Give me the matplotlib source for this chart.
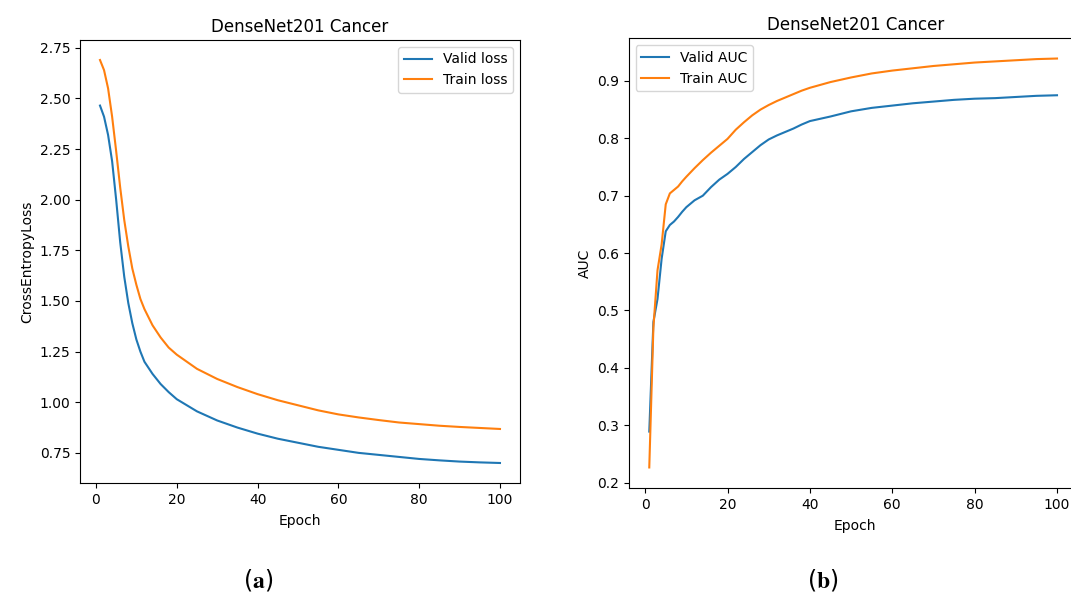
import matplotlib.pyplot as plt

# values
loss_epochs = [1, 2, 3, 4, 5, 6, 7, 8, 9, 10, 11, 12, 14, 16, 18, 20, 25, 30, 35,
               40, 45, 50, 55, 60, 65, 70, 75, 80, 85, 90, 95, 100]
valid_loss = [2.465, 2.41, 2.32, 2.19, 2.00, 1.79, 1.62, 1.49, 1.39, 1.31, 1.25,
              1.20, 1.14, 1.09, 1.05, 1.015, 0.955, 0.91, 0.875, 0.845, 0.82, 0.80,
              0.78, 0.765, 0.75, 0.74, 0.73, 0.72, 0.713, 0.707, 0.703, 0.70]
train_loss = [2.69, 2.64, 2.55, 2.41, 2.24, 2.06, 1.90, 1.77, 1.66, 1.58, 1.51,
              1.46, 1.38, 1.32, 1.27, 1.235, 1.165, 1.115, 1.075, 1.04, 1.01, 0.985,
              0.96, 0.94, 0.925, 0.912, 0.90, 0.892, 0.884, 0.878, 0.873, 0.868]

auc_epochs = [1, 2, 3, 4, 5, 6, 7, 8, 9, 10, 12, 14, 16, 18, 20, 22, 24, 26, 28,
              30, 32, 34, 36, 38, 40, 45, 50, 55, 60, 65, 70, 75, 80, 85, 90, 95, 100]
valid_auc = [0.289, 0.48, 0.52, 0.59, 0.638, 0.649, 0.655, 0.663, 0.672, 0.68,
             0.692, 0.70, 0.715, 0.728, 0.738, 0.75, 0.764, 0.776, 0.788, 0.798,
             0.805, 0.811, 0.817, 0.824, 0.83, 0.838, 0.847, 0.853, 0.857, 0.861,
             0.864, 0.867, 0.869, 0.870, 0.872, 0.874, 0.875]
train_auc = [0.2265, 0.47, 0.57, 0.615, 0.685, 0.704, 0.710, 0.716, 0.725, 0.733,
             0.748, 0.762, 0.775, 0.787, 0.799, 0.815, 0.828, 0.84, 0.85, 0.858,
             0.865, 0.871, 0.877, 0.883, 0.888, 0.898, 0.906, 0.913, 0.918, 0.922,
             0.926, 0.929, 0.932, 0.934, 0.936, 0.938, 0.939]

plt.rcParams["mathtext.fontset"] = "stix"

fig = plt.figure(figsize=(10.71, 5.95), dpi=100)
ax1 = fig.add_axes([0.0747, 0.188, 0.4108, 0.745])
# right panel runs past the figure edge, as in the reference
ax2 = fig.add_axes([0.587, 0.18, 0.423, 0.756])

ax1.plot(loss_epochs, valid_loss, label="Valid loss")
ax1.plot(loss_epochs, train_loss, label="Train loss")
ax1.set_title("DenseNet201 Cancer", fontsize=12)
ax1.set_xlabel("Epoch", labelpad=5)
ax1.set_ylabel("CrossEntropyLoss")
ax1.set_xticks([0, 20, 40, 60, 80, 100])
ax1.legend(loc="upper right")

ax2.plot(auc_epochs, valid_auc, label="Valid AUC")
ax2.plot(auc_epochs, train_auc, label="Train AUC")
ax2.set_title("DenseNet201 Cancer", fontsize=12)
ax2.set_xlabel("Epoch", labelpad=5)
ax2.set_ylabel("AUC")
ax2.set_xticks([0, 20, 40, 60, 80, 100])
ax2.set_xlim(-4, 106)
ax2.legend(loc="upper left")

fig.text(0.241, 0.025, r"($\mathbf{a}$)", ha="center", va="center", fontsize=17)
fig.text(0.768, 0.025, r"($\mathbf{b}$)", ha="center", va="center", fontsize=17)

fig.savefig("out.png", dpi=100)
